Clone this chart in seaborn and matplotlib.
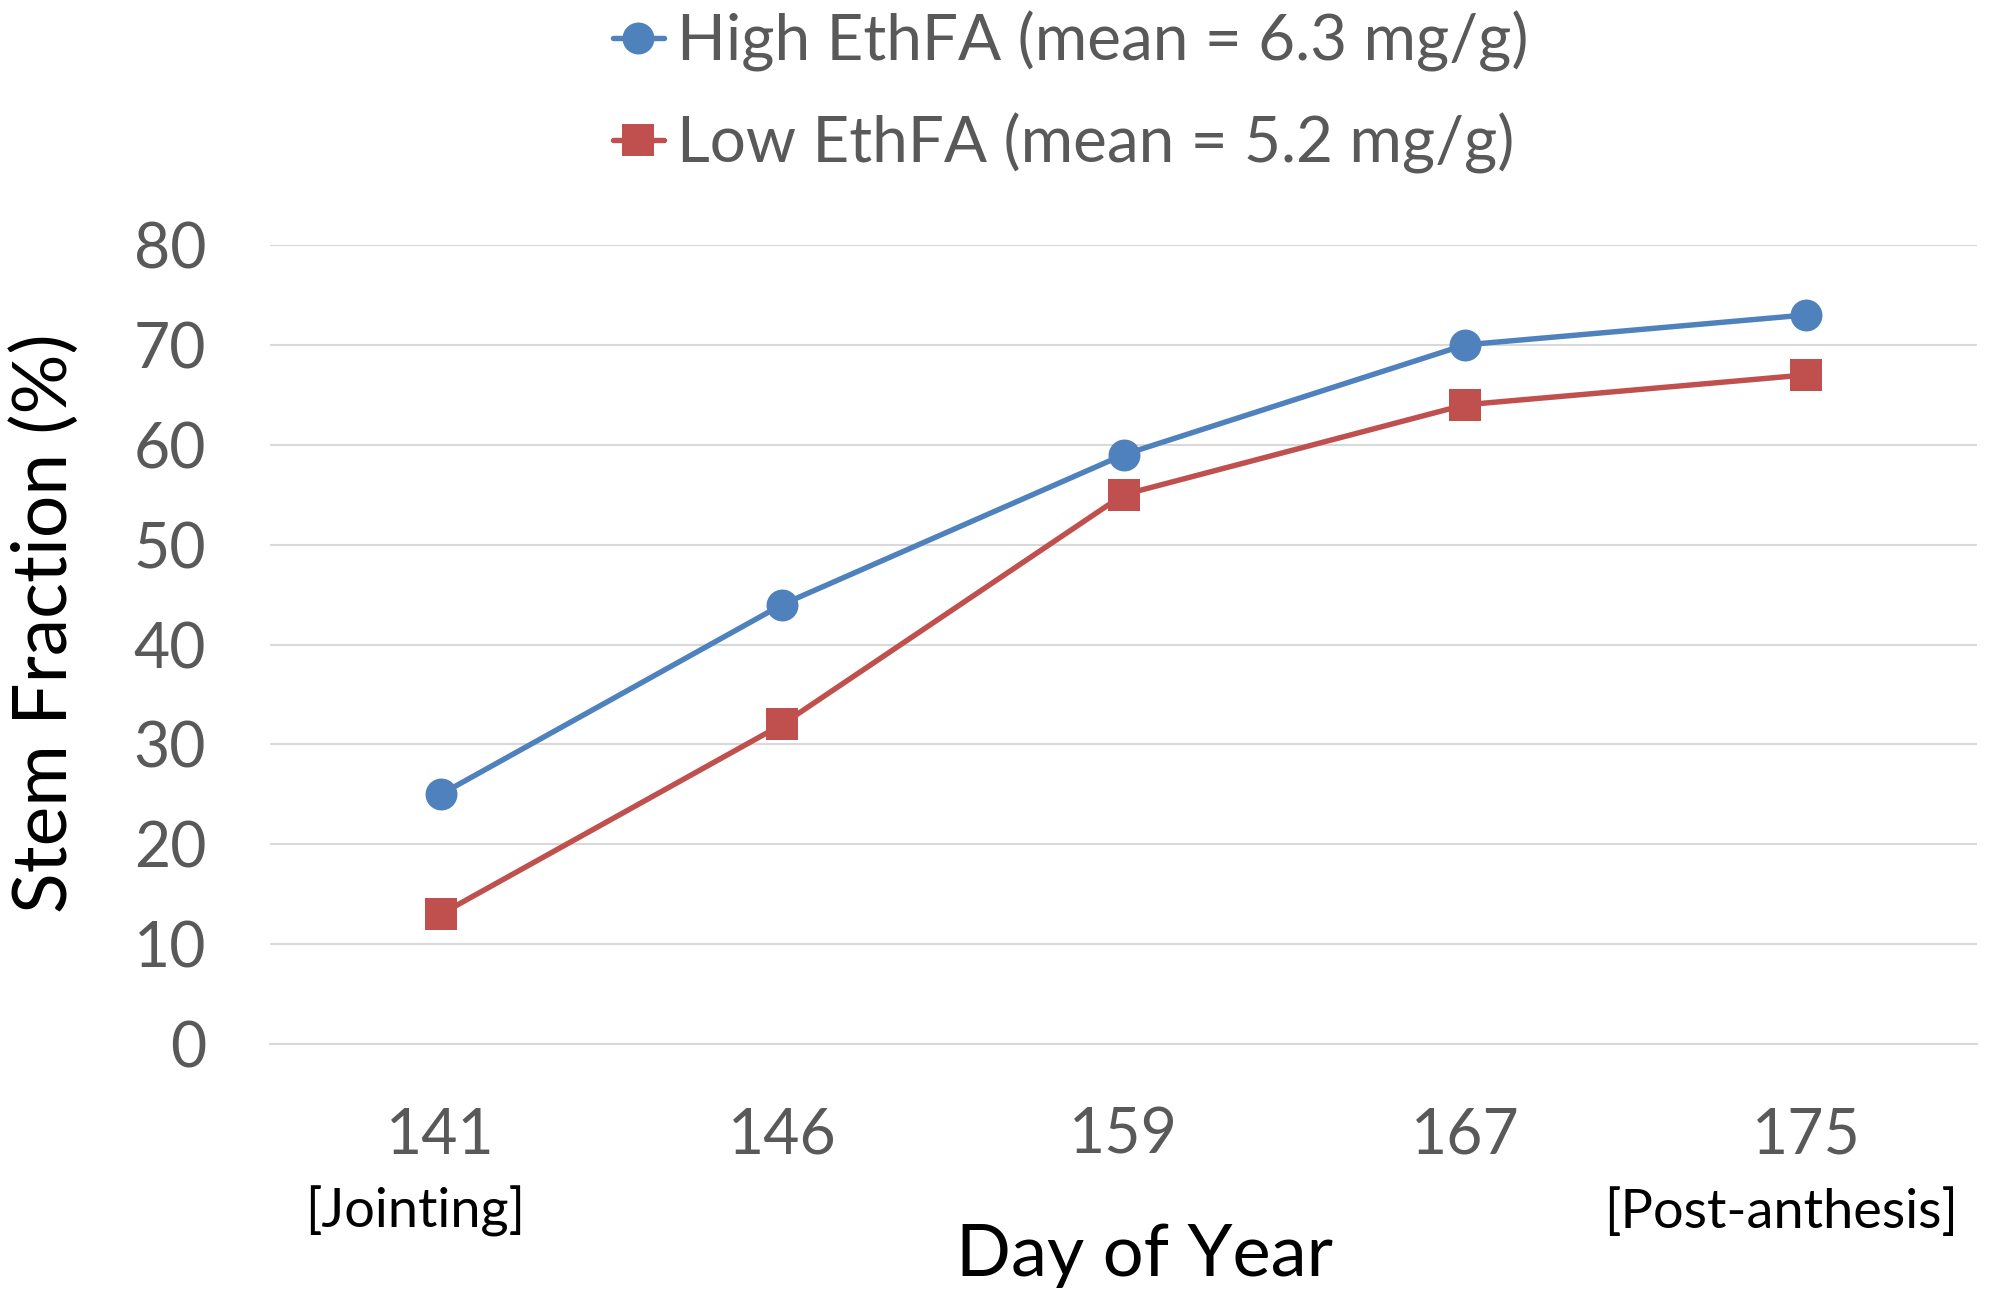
import matplotlib
matplotlib.use("Agg")
import matplotlib.pyplot as plt
import seaborn as sns
import pandas as pd

days = ["141", "146", "159", "167", "175"]
high_vals = [25, 44, 59, 70, 73]
low_vals = [13, 32, 55, 64, 67]
series_names = ["High EthFA (mean = 6.3 mg/g)", "Low EthFA (mean = 5.2 mg/g)"]
stage_labels = {"141": "[Jointing]", "175": "[Post-anthesis]"}
y_ticks = [0, 10, 20, 30, 40, 50, 60, 70, 80]

sns.set_theme(style="white")
plt.rcParams["font.family"] = ["Lato", "DejaVu Sans"]

df = pd.DataFrame({
    "day": days * 2,
    "value": high_vals + low_vals,
    "series": [series_names[0]] * 5 + [series_names[1]] * 5,
})

TXT = "#595959"
fig = plt.figure(figsize=(19.9, 12.95), dpi=100)
ax = fig.add_axes([0.1357, 0.1938, 0.8578, 0.617])

palette = {series_names[0]: "#4F81BD", series_names[1]: "#C0504D"}
markers = {series_names[0]: "o", series_names[1]: "s"}
sns.lineplot(data=df, x="day", y="value", hue="series", style="series",
             palette=palette, markers=markers, dashes=False, sort=False,
             linewidth=3.9, markersize=23, markeredgewidth=0, ax=ax, legend=True)

ax.set_xlim(-0.5, 4.5)
ax.set_ylim(0, 80)
ax.set_yticks(y_ticks)
ax.yaxis.grid(True, color="#D9D9D9", linewidth=1.5)
ax.set_axisbelow(True)
for s in ["top", "right", "left"]:
    ax.spines[s].set_visible(False)
ax.spines["bottom"].set_color("#D9D9D9")
ax.spines["bottom"].set_linewidth(1.5)
ax.tick_params(axis="both", length=0, labelsize=45, labelcolor=TXT)
ax.tick_params(axis="x", pad=45)
ax.tick_params(axis="y", pad=46)

ax.set_xlabel("Day of Year", fontsize=52, color="black")
ax.xaxis.set_label_coords(0.512, -0.265)
ax.xaxis.label.set_va("center")
ax.set_ylabel("Stem Fraction (%)", fontsize=54, color="black")
ax.yaxis.set_label_coords(-0.132, 0.527)
ax.yaxis.label.set_va("center")

for i, d in enumerate(days):
    if d in stage_labels:
        ax.text(i - 0.075, -0.21, stage_labels[d], transform=ax.get_xaxis_transform(),
                ha="center", va="center", fontsize=39, color="black")

h, l = ax.get_legend_handles_labels()
ax.get_legend().remove()
leg = fig.legend(h, l, loc="upper left", bbox_to_anchor=(0.308, 0.992),
                 frameon=False, fontsize=46, labelcolor=TXT, borderpad=0,
                 borderaxespad=0, handlelength=0.8, handletextpad=0.2,
                 labelspacing=0.64)

fig.savefig("out.png", dpi=100)
